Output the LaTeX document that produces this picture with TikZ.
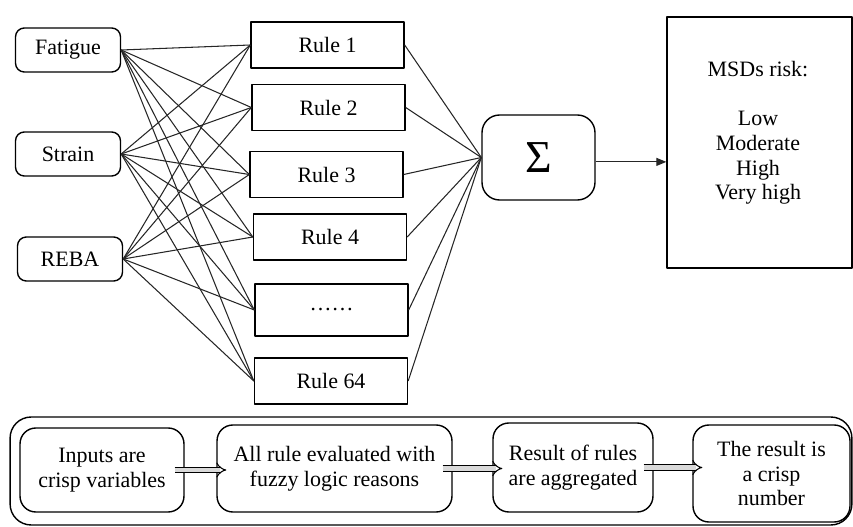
\documentclass[tikz,border=0pt]{standalone}
\usepackage{fontspec}
\setmainfont{Liberation Serif}
\newfontfamily\timesfont{Liberation Serif}
\usetikzlibrary{arrows.meta,positioning}
\tikzset{
  >=Stealth,
  every node/.append style={font=\timesfont\fontsize{12.5}{14}\selectfont},
}
\tikzset{
  inbox/.style={draw, rounded corners=5pt, line width=0.8pt, minimum width=2.1cm, minimum height=0.88cm, inner sep=0pt},
  rulebox/.style={draw, line width=0.8pt, minimum width=3.06cm, minimum height=0.92cm, inner sep=0pt},
  link/.style={line width=0.6pt, color=black!85},
  stepbox/.style={draw, rounded corners=9pt, line width=0.8pt, align=center, inner sep=0pt},
  flow/.style={double=gray!30, double distance=2.4pt, line width=0.6pt, -{Implies}, shorten <=-0.2cm, shorten >=-0.2cm}
}
\begin{document}
\begin{tikzpicture}[x=0.02cm, y=-0.02cm, line join=round]
\useasboundingbox (0,0) rectangle (853,527);

% Inputs
\node[inbox] (fatigue) at (68,50) {Fatigue};
\node[inbox] (strain) at (68,154) {Strain};
\node[inbox] (reba) at (70,259) {REBA};

% Rule base
\node[rulebox] (r1) at (327.5,45) {Rule 1};
\node[rulebox] (r2) at (328.5,107.5) {Rule 2};
\node[rulebox] (r3) at (326.5,174.5) {Rule 3};
\node[rulebox] (r4) at (330,237) {Rule 4};
\node[rulebox, minimum height=1.04cm] (rdots) at (331.5,310) {……};
\node[rulebox] (r64) at (331,381) {Rule 64};

% Aggregation and output
\node[draw, rounded corners=10pt, line width=0.8pt, minimum width=2.26cm, minimum height=1.7cm, inner sep=0pt, font=\timesfont\fontsize{26}{28}\selectfont] (sum) at (538.5,157.5) {Σ};
\node[rulebox, minimum width=3.7cm, minimum height=5.02cm] (risk) at (759.5,142.5) {};
\node[align=center] (risktext) at (758,133) {MSDs risk:\\[\baselineskip]Low\\Moderate\\High\\Very high};

% Inputs -> every rule
\draw[link] (fatigue.east) edge (r1.west) edge (r2.west) edge (r3.west) edge (r4.west) edge (rdots.west) edge (r64.west);
\draw[link] (strain.east) edge (r1.west) edge (r2.west) edge (r3.west) edge (r4.west) edge (rdots.west) edge (r64.west);
\draw[link] (reba.east) edge (r1.west) edge (r2.west) edge (r3.west) edge (r4.west) edge (rdots.west) edge (r64.west);

% Rules -> sum
\draw[link] (sum.west) edge (r1.east) edge (r2.east) edge (r3.east) edge (r4.east) edge (rdots.east) edge (r64.east);
\draw[link, -{Triangle[length=2mm, width=1.6mm]}] ([yshift=-2.5pt]sum.east) -- ([yshift=-2.5pt]sum.east -| risk.west);

% Process summary
\node[draw, rounded corners=12pt, line width=0.8pt, minimum width=16.84cm, minimum height=2.16cm] (frame) at (431,471) {};
\node[stepbox, minimum width=3.28cm, minimum height=1.68cm] (s1) at (102,470) {Inputs are\\crisp variables};
\node[stepbox, minimum width=4.7cm, minimum height=1.74cm] (s2) at (334.5,468.5) {All rule evaluated with\\fuzzy logic reasons};
\node[stepbox, minimum width=3.2cm, minimum height=1.78cm] (s3) at (573,467.5) {Result of rules\\are aggregated};
\node[stepbox, minimum width=3.14cm, minimum height=1.94cm] (s4) at (771.5,473.5) {The result is\\a crisp\\number};

\draw[flow] (s1.east) -- (s1.east -| s2.west);
\draw[flow] (s2.east) -- (s2.east -| s3.west);
\draw[flow] (s3.east) -- (s3.east -| s4.west);

\end{tikzpicture}
\end{document}
